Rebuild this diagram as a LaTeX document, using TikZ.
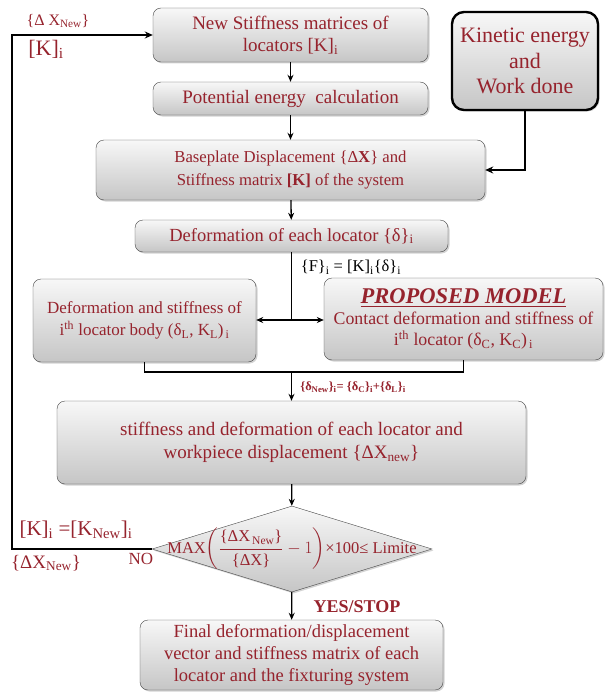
\documentclass[tikz,border=0pt]{standalone}
\usepackage{amsmath}
\usepackage{fontspec}
\setmainfont{Liberation Serif}
\usepackage{tikz}
\usetikzlibrary{shapes.geometric,arrows.meta,positioning,calc,shadows}

\definecolor{txtred}{RGB}{150,35,45}
\newcommand{\fs}[2]{\fontsize{#1}{#2}\selectfont}

\begin{document}
\begin{tikzpicture}[
    x=1pt, y=-1pt,
    box/.style={rectangle, draw=gray!55!black, top color=gray!6, bottom color=gray!45, rounded corners=8pt, align=center, text=txtred, inner sep=2pt, drop shadow={shadow xshift=1.5pt, shadow yshift=-1.5pt, opacity=0.35}},
    bigbox/.style={box, draw=black, line width=2.4pt, rounded corners=12pt},
    decision/.style={diamond, draw=gray!55!black, top color=gray!6, bottom color=gray!45, inner sep=0pt, drop shadow={shadow xshift=1.5pt, shadow yshift=-1.5pt, opacity=0.35}},
    lbl/.style={text=txtred, inner sep=1pt},
    arrow/.style={-{Stealth[length=7pt, width=6pt]}, line width=1.3pt},
    thickarrow/.style={-{Stealth[length=8pt, width=7pt]}, line width=2.4pt},
    loopline/.style={-{Stealth[length=8pt, width=7pt]}, line width=1.8pt}
]
    \useasboundingbox (0,0) rectangle (613,693);

    % main column
    \node [box, minimum width=275pt, minimum height=54pt, font=\fs{19}{22}] (n1) at (290.5,35) {New Stiffness matrices of\\locators [K]\textsubscript{i}};
    \node [box, minimum width=275pt, minimum height=33pt, font=\fs{19}{22}] (n2) at (290.5,98.5) {Potential energy\ \ calculation};
    \node [bigbox, minimum width=146pt, minimum height=98pt, font=\fs{22}{25.5}] (ke) at (525,61) {Kinetic energy\\and\\Work done};
    \node [box, minimum width=389pt, minimum height=60pt, font=\fs{16.7}{23}] (n3) at (290.5,170) {Baseplate Displacement \{Δ\textbf{X}\} and\\Stiffness matrix \textbf{[K]} of the system};
    \node [box, minimum width=313pt, minimum height=32pt, font=\fs{18.5}{20}] (n4) at (291.5,236) {Deformation of each locator \{δ\}\textsubscript{i}};

    % locator models
    \node [box, minimum width=223pt, minimum height=83pt, font=\fs{17}{22}] (n5) at (144.5,320.5) {Deformation and stiffness of\\i\textsuperscript{th} locator body (δ\textsubscript{L}, K\textsubscript{L})\textsubscript{\,i}};
    \node [box, minimum width=279pt, minimum height=82pt, font=\fs{17.8}{21}] (n6) at (463.5,319) {{\fs{22.5}{24}\textbf{\textit{\underline{PROPOSED MODEL}}}}\\Contact deformation and stiffness of\\i\textsuperscript{th} locator (δ\textsubscript{C}, K\textsubscript{C})\textsubscript{\,i}};

    \node [box, minimum width=469pt, minimum height=83pt, font=\fs{19}{23}] (n7) at (291.5,442.5) {stiffness and deformation of each locator and\\workpiece displacement \{ΔX\textsubscript{new}\}};

    % convergence check
    \node [decision, minimum width=280pt, minimum height=86pt] (dia) at (292,549) {};
    \node [lbl, font=\fs{16.5}{18}] (crit) at (dia.center) {MAX$\left(\dfrac{\text{\{ΔX\textsubscript{\,New}\}}}{\text{\{ΔX\}}}-1\right)$×100≤ Limite};

    \node [box, minimum width=303pt, minimum height=70pt, font=\fs{18.5}{22}] (n8) at (291.5,655) {Final deformation/displacement\\vector and stiffness matrix of each\\locator and the fixturing system};

    % labels
    \node [lbl, font=\fs{16}{18}] (l1) at (58,21) {\{Δ X\textsubscript{New}\}};
    \node [lbl, font=\fs{22}{24}] (l2) at (46,49) {[K]\textsubscript{i}};
    \node [inner sep=1pt, font=\fs{16.5}{18}] (l3) at (351,267) {\{F\}\textsubscript{i} = [K]\textsubscript{i}\{δ\}\textsubscript{i}};
    \node [lbl, font=\fs{12.5}{14}\bfseries] (l4) at (353,387) {\{δ\textsubscript{New}\}\textsubscript{i}= \{δ\textsubscript{C}\}\textsubscript{i}+\{δ\textsubscript{L}\}\textsubscript{i}};
    \node [lbl, font=\fs{21}{23}] (l5) at (76,530) {[K]\textsubscript{i} =[K\textsubscript{New}]\textsubscript{i}};
    \node [lbl, font=\fs{19}{21}] (l6) at (46,563) {\{ΔX\textsubscript{New}\}};
    \node [lbl, font=\fs{17}{19}] (l7) at (141,559) {NO};
    \node [lbl, font=\fs{18}{20}\bfseries] (l8) at (357,607) {YES/STOP};

    \coordinate (sp) at (291.5,320);
    \coordinate (jn) at (291.5,372);
    \coordinate (lp) at (12,300);

    \draw [arrow] (n1) -- (n2);
    \draw [arrow] (n2) -- (n3);
    \draw [thickarrow] (ke.south) |- (n3.east);
    \draw [arrow] (n3) -- (n4);
    \draw [line width=1.3pt] (n4.south) -- (sp);
    \draw [arrow] (sp) -- (sp -| n5.east);
    \draw [arrow] (sp) -- (sp -| n6.west);
    \draw [line width=1.3pt] (n5.south) |- (jn) -| (n6.south);
    \draw [arrow] (jn) -- (n7);
    \draw [arrow] (n7) -- (dia);
    \draw [arrow] (dia) -- (n8);
    \draw [loopline] (dia.west) -| (lp) |- (n1.west);
\end{tikzpicture}
\end{document}
